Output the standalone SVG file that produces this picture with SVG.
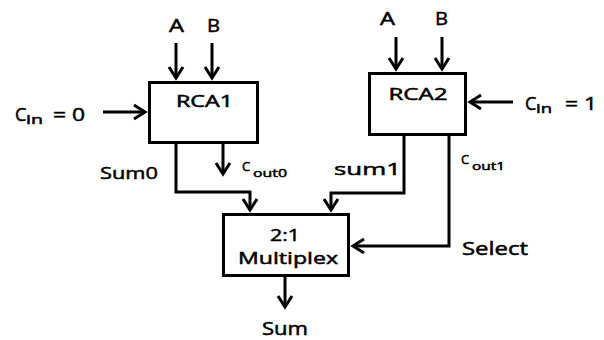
<svg xmlns="http://www.w3.org/2000/svg" width="604" height="340" viewBox="0 0 604 340">
<style>
.box{fill:#fff;stroke:#000;stroke-width:3}
.w{fill:none;stroke:#000;stroke-width:3;stroke-linejoin:miter}
text{font-family:"Open Sans","Liberation Sans",sans-serif;font-weight:normal;fill:#000;stroke:#000;stroke-width:0.5}
.m{text-anchor:middle}
</style>
<defs>
<marker id="ah" markerUnits="userSpaceOnUse" viewBox="-14 -9 16 18" refX="0" refY="0" markerWidth="16" markerHeight="18" orient="auto" overflow="visible">
<path d="M-11,-7 L0,0 L-11,7" fill="none" stroke="#000" stroke-width="3"/>
</marker>
</defs>
<rect width="604" height="340" fill="#fff"/>
<g id="connectors">
<path class="w" d="M176,43 V78" marker-end="url(#ah)"/>
<path class="w" d="M212,43 V78" marker-end="url(#ah)"/>
<path class="w" d="M103,112 H145" marker-end="url(#ah)"/>
<path class="w" d="M396,37 V69" marker-end="url(#ah)"/>
<path class="w" d="M442,37 V69" marker-end="url(#ah)"/>
<path class="w" d="M513,102 H470" marker-end="url(#ah)"/>
<path class="w" d="M176,143 V192 H250 V210" marker-end="url(#ah)"/>
<path class="w" d="M223,143 V174" marker-end="url(#ah)"/>
<path class="w" d="M404,135 V193 H331 V210" marker-end="url(#ah)"/>
<path class="w" d="M449,135 V246 H353" marker-end="url(#ah)"/>
<path class="w" d="M285,276 V307" marker-end="url(#ah)"/>
</g>
<g id="rca1">
<rect class="box" x="149.5" y="82.5" width="108" height="60"/>
<text class="m" x="204.5" y="107" font-size="15.5" textLength="57" lengthAdjust="spacingAndGlyphs">RCA1</text>
</g>
<g id="rca2">
<rect class="box" x="369.5" y="73.5" width="96" height="61"/>
<text class="m" x="418" y="100" font-size="16" textLength="59" lengthAdjust="spacingAndGlyphs">RCA2</text>
</g>
<g id="mux">
<rect class="box" x="223.5" y="214.5" width="125" height="61"/>
<text class="m" x="285" y="241" font-size="17" textLength="30" lengthAdjust="spacingAndGlyphs">2:1</text>
<text class="m" x="288" y="264" font-size="17" textLength="100" lengthAdjust="spacingAndGlyphs">Multiplex</text>
</g>
<g id="labels">
<text class="m" x="176.5" y="32" font-size="18" textLength="15" lengthAdjust="spacingAndGlyphs">A</text>
<text class="m" x="213.5" y="32" font-size="18" textLength="13" lengthAdjust="spacingAndGlyphs">B</text>
<text class="m" x="387.5" y="25" font-size="18" textLength="15" lengthAdjust="spacingAndGlyphs">A</text>
<text class="m" x="441.5" y="25" font-size="18" textLength="13" lengthAdjust="spacingAndGlyphs">B</text>
<text x="15" y="121" font-size="18">C</text>
<text x="26" y="124" font-size="13" textLength="17" lengthAdjust="spacingAndGlyphs">in</text>
<text x="53" y="121" font-size="18" textLength="32" lengthAdjust="spacingAndGlyphs">= 0</text>
<text x="525" y="110" font-size="18">C</text>
<text x="536" y="113" font-size="13" textLength="16" lengthAdjust="spacingAndGlyphs">in</text>
<text x="565" y="110" font-size="18" textLength="32" lengthAdjust="spacingAndGlyphs">= 1</text>
<text x="100" y="179" font-size="17" textLength="58" lengthAdjust="spacingAndGlyphs">Sum0</text>
<text x="242" y="171" font-size="13">C</text>
<text x="253" y="177" font-size="11" textLength="34" lengthAdjust="spacingAndGlyphs">out0</text>
<text x="334" y="175" font-size="17" textLength="67" lengthAdjust="spacingAndGlyphs">sum1</text>
<text x="461" y="164" font-size="13">C</text>
<text x="472" y="170" font-size="11" textLength="33" lengthAdjust="spacingAndGlyphs">out1</text>
<text x="462" y="255" font-size="18" textLength="66" lengthAdjust="spacingAndGlyphs">Select</text>
<text x="262" y="335" font-size="18" textLength="46" lengthAdjust="spacingAndGlyphs">Sum</text>
</g>
</svg>
